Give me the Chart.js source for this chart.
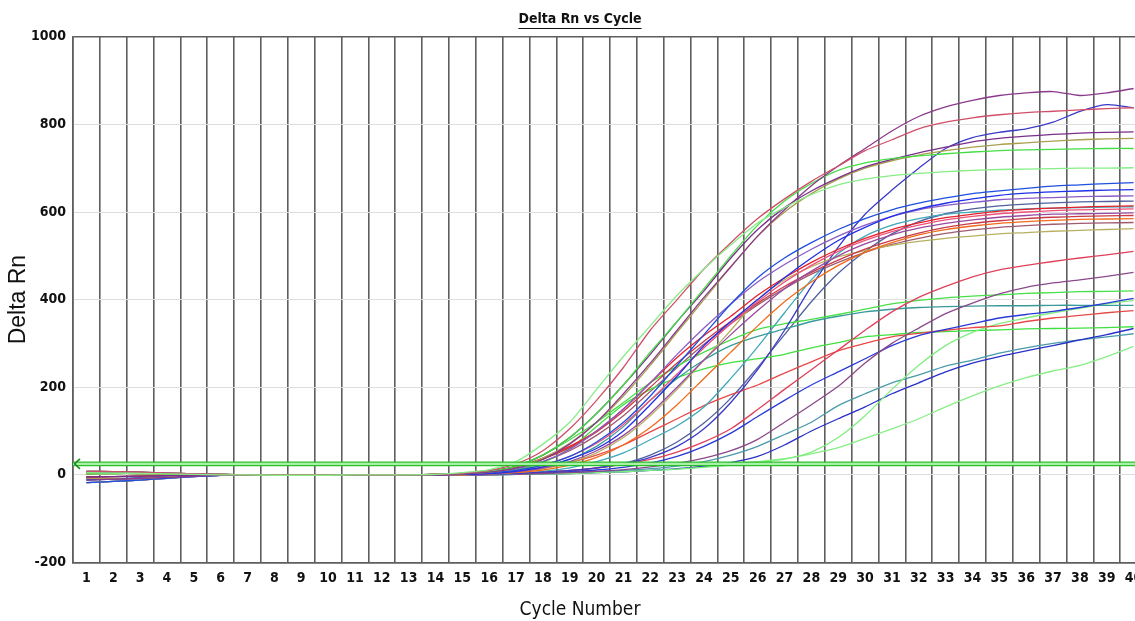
<!DOCTYPE html>
<html><head><meta charset="utf-8">
<script src="https://cdn.jsdelivr.net/npm/chart.js@4.4.1/dist/chart.umd.min.js"></script>
<style>
html,body{margin:0;padding:0;background:#fff;overflow:hidden;}
#wrap{width:1160px;height:621px;position:relative;}
</style></head><body>
<div id="wrap"><canvas id="c"></canvas></div>
<script>
const cycles = ['1','2','3','4','5','6','7','8','9','10','11','12','13','14','15','16','17','18','19','20','21','22','23','24','25','26','27','28','29','30','31','32','33','34','35','36','37','38','39','40'];
const yTicks = [-200, 0, 200, 400, 600, 800, 1000];
const threshold = 25;

const s01 = [5,4,3,2,1,0,0,-1,-1,-1,0,0,0,1, 5,12,30,70,120,195,270,340,410,470,525,575,610,640,662,675,683,688,692,695,697,698,699,700,700,701];
const s02 = [8,7,6,4,2,1,0,0,0,0,0,0,0,1, 4,10,25,55,105,170,245,330,400,470,530,585,630,670,705,740,765,790,805,815,822,827,830,833,836,838];
const s03 = [-12,-10,-8,-6,-3,-1,0,0,0,0,0,0,0,0, 2,6,15,35,70,120,185,255,330,405,475,545,605,660,705,745,785,818,840,855,866,872,875,866,872,882];
const s04 = [2,3,3,2,1,1,0,0,0,0,0,0,0,1, 3,8,20,45,85,140,205,280,350,425,500,570,625,665,695,712,722,728,733,737,740,742,743,744,745,745];
const s05 = [-5,-4,-3,-2,-1,0,0,0,0,0,-1,-1,0,0, 3,8,20,45,85,140,205,275,350,420,495,560,610,648,678,703,720,735,748,760,768,773,777,780,782,783];
const s06 = [-8,-9,-8,-5,-2,0,0,0,0,0,0,0,0,0, 2,6,16,38,72,120,180,250,325,400,475,545,600,642,675,700,717,730,740,748,754,758,762,765,767,768];
const s07 = [-18,-15,-12,-8,-4,-1,0,0,0,0,0,0,0,0, 2,5,10,22,42,75,120,180,250,320,390,450,495,530,560,585,605,620,632,642,648,654,659,662,665,667];
const s08 = [-10,-9,-7,-5,-3,-1,0,0,0,0,0,0,0,0, 1,3,8,18,36,60,100,160,225,295,350,400,450,495,535,565,590,607,620,630,638,643,646,648,650,651];
const s09 = [6,5,4,3,2,1,0,0,0,0,0,0,0,0, 2,6,14,30,58,100,150,210,275,335,390,440,480,515,545,570,590,605,615,622,628,631,633,635,636,637];
const s10 = [-5,-4,-3,-2,-1,0,0,0,0,0,-1,-1,0,0, 3,8,18,38,65,100,150,210,268,318,362,410,450,485,515,540,560,575,587,595,602,606,609,611,613,614];
const s11 = [5,4,3,2,1,0,0,-1,-1,-1,0,0,0,1, 1,4,10,22,42,72,115,170,230,290,345,395,440,478,510,535,555,570,582,590,596,600,603,605,606,607];
const s12 = [-8,-9,-8,-5,-2,0,0,0,0,0,0,0,0,0, 1,3,7,15,30,55,90,140,200,262,320,375,425,465,500,527,548,563,574,582,588,592,595,596,597,598];
const s13 = [8,7,6,4,2,1,0,0,0,0,0,0,0,1, 3,8,18,36,62,98,145,200,255,305,350,392,430,462,490,515,535,552,565,574,580,585,588,590,591,592];
const s14 = [2,3,3,2,1,1,0,0,0,0,0,0,0,1, 0,2,5,11,22,40,68,108,160,220,280,340,395,440,478,508,530,548,560,568,574,578,581,583,584,585];
const s15 = [-18,-15,-12,-8,-4,-1,0,0,0,0,0,0,0,0, 0,2,6,14,28,50,85,135,195,262,330,400,445,475,498,512,524,533,540,545,550,553,556,558,560,562];
const s16 = [-12,-10,-8,-6,-3,-1,0,0,0,0,0,0,0,0, 0,1,3,6,10,16,25,40,65,105,165,240,330,430,520,595,650,700,745,770,782,790,805,830,845,838];
const s17 = [-5,-4,-3,-2,-1,0,0,0,0,0,-1,-1,0,0, 0,1,3,8,16,30,50,80,112,155,220,292,370,445,505,545,570,585,595,600,604,607,609,610,611,612];
const s18 = [5,4,3,2,1,0,0,-1,-1,-1,0,0,0,1, 0,1,3,6,10,16,24,35,52,75,105,149,195,240,285,330,372,405,430,452,468,478,487,495,502,510];
const s19 = [-8,-9,-8,-5,-2,0,0,0,0,0,0,0,0,0, 0,0,1,3,5,8,12,18,26,38,55,81,120,160,202,255,300,335,368,392,413,428,438,445,453,462];
const s20 = [2,3,3,2,1,1,0,0,0,0,0,0,0,1, 3,8,20,45,80,120,165,210,248,280,308,332,345,355,366,378,390,398,404,408,411,414,416,418,419,420];
const s21 = [-18,-15,-12,-8,-4,-1,0,0,0,0,0,0,0,0, 0,1,2,4,7,11,17,27,42,65,95,133,170,205,235,265,295,318,332,345,358,366,373,382,392,403];
const s22 = [8,7,6,4,2,1,0,0,0,0,0,0,0,1, 1,3,8,18,35,65,110,170,220,262,295,316,333,350,362,372,378,382,384,385,386,386,387,387,387,387];
const s23 = [-5,-4,-3,-2,-1,0,0,0,0,0,-1,-1,0,0, 1,3,8,16,28,45,68,98,128,158,183,205,232,258,283,300,315,323,330,336,340,350,358,364,370,375];
const s24 = [-12,-10,-8,-6,-3,-1,0,0,0,0,0,0,0,0, 0,0,1,2,3,5,7,10,13,17,22,28,36,52,85,135,195,250,295,325,345,358,370,380,390,398];
const s25 = [5,4,3,2,1,0,0,-1,-1,-1,0,0,0,1, 2,5,12,28,60,110,160,195,222,242,256,265,275,290,302,315,320,325,327,329,331,333,334,335,336,338];
const s26 = [-8,-9,-8,-5,-2,0,0,0,0,0,0,0,0,0, 0,0,1,2,3,5,7,10,14,20,28,42,68,100,128,155,185,210,235,255,270,283,295,308,320,334];
const s27 = [8,7,6,4,2,1,0,0,0,0,0,0,0,1, 0,1,2,3,5,7,10,14,20,30,45,65,92,120,158,185,210,228,248,262,278,290,300,308,315,322];
const s28 = [-5,-4,-3,-2,-1,0,0,0,0,0,-1,-1,0,0, 0,0,1,2,3,5,7,10,13,18,24,30,37,48,62,83,105,128,155,180,203,222,237,250,270,293];
const s29 = [-18,-15,-12,-8,-4,-1,0,0,0,0,0,0,0,0, 2,6,14,30,55,90,135,190,245,298,345,388,425,458,485,508,526,540,551,559,565,569,572,574,575,576];
const s30 = [2,3,3,2,1,1,0,0,0,0,0,0,0,1, 0,1,2,5,9,15,26,45,75,118,175,245,320,395,460,510,550,578,596,607,614,618,621,623,624,625];

const seriesList = [s01,s02,s03,s04,s05,s06,s07,s08,s09,s10,s11,s12,s13,s14,s15,s16,s17,s18,s19,s20,s21,s22,s23,s24,s25,s26,s27,s28,s29,s30];
const seriesColors = ['#86ee86','#d0506a','#8b3a8b','#44dd44','#7a2f8a','#a8a050','#1f4fe0','#2030e8','#8a5cc8','#e8202a',
  '#f0507a','#9a4aa0','#c83a48','#f26a1a','#b8b060','#3a3ac8','#40a8b8','#e0405a','#8a4a8a','#48e048',
  '#2a3ad8','#3a9a9a','#e84848','#80ee80','#40e040','#2830c8','#4a9aa8','#88ee88','#a05a70','#5060a0'];

const FONT = "'DejaVu Sans Condensed','Liberation Sans Narrow',sans-serif";
const FONT2 = "'Liberation Sans','Arial',sans-serif";

const thresholdPlugin = {
  id: 'thresholdLine',
  afterDatasetsDraw(chart) {
    const ctx = chart.ctx;
    const y = chart.scales.y.getPixelForValue(threshold);
    const {left, right} = chart.chartArea;
    ctx.save();
    ctx.fillStyle = '#a8f0a8';
    ctx.fillRect(left, y - 1.5, right - left, 3);
    ctx.strokeStyle = '#2cbf2c';
    ctx.lineWidth = 1.2;
    ctx.beginPath();
    ctx.moveTo(left, y - 1.8); ctx.lineTo(right, y - 1.8);
    ctx.moveTo(left, y + 1.8); ctx.lineTo(right, y + 1.8);
    ctx.stroke();
    ctx.strokeStyle = '#1e8a1e';
    ctx.lineWidth = 1.6;
    ctx.beginPath();
    ctx.moveTo(left + 7, y - 5); ctx.lineTo(left + 1.5, y); ctx.lineTo(left + 7, y + 5);
    ctx.stroke();
    ctx.restore();
  },
  afterDraw(chart) {
    const tb = chart.titleBlock;
    if (!tb) return;
    const ctx = chart.ctx;
    const opts = chart.options.plugins.title;
    ctx.save();
    ctx.font = 'bold ' + opts.font.size + 'px ' + opts.font.family;
    const w = ctx.measureText(opts.text).width;
    const cx = (tb.left + tb.right) / 2;
    const cy = tb.top + opts.padding.top + opts.font.size * 1.2 / 2;
    const uy = Math.round(cy + opts.font.size * 0.6) + 0.5;
    ctx.strokeStyle = '#111';
    ctx.lineWidth = 1;
    ctx.beginPath();
    ctx.moveTo(cx - w / 2, uy);
    ctx.lineTo(cx + w / 2, uy);
    ctx.stroke();
    ctx.restore();
  }
};

new Chart(document.getElementById('c'), {
  type: 'line',
  data: {
    labels: cycles,
    datasets: seriesList.map((d, i) => ({
      data: d,
      borderColor: seriesColors[i],
      borderWidth: 1.3,
      pointRadius: 0,
      tension: 0.25,
      fill: false
    }))
  },
  options: {
    responsive: true,
    maintainAspectRatio: false,
    animation: false,
    devicePixelRatio: 1,
    layout: {padding: {left: 13, right: 13, top: 0, bottom: 0}},
    plugins: {
      legend: {display: false},
      tooltip: {enabled: false},
      title: {display: true, text: 'Delta Rn vs Cycle', color: '#111',
        font: {family: FONT, size: 14, weight: 'bold'}, padding: {top: 11, bottom: 9}},
      subtitle: {display: true, position: 'bottom', text: 'Cycle Number', color: '#111',
        font: {family: FONT, size: 19, weight: 'normal'}, padding: {top: 3, bottom: 0}}
    },
    scales: {
      x: {
        type: 'category',
        offset: true,
        z: -1,
        grid: {offset: true, color: '#5e5e5e', lineWidth: 1.6, drawTicks: false},
        border: {color: '#5e5e5e', width: 1.6},
        ticks: {color: '#111', padding: 8, autoSkip: false, maxRotation: 0,
          font: {family: FONT, size: 14, weight: 'bold'}}
      },
      y: {
        min: -200, max: 1000,
        z: -2,
        afterBuildTicks(scale) { scale.ticks = yTicks.map(v => ({value: v})); },
        afterFit(scale) { scale.width = 60; },
        grid: {
          drawTicks: false,
          color: c => (c.tick && (c.tick.value === 1000 || c.tick.value === -200)) ? '#5e5e5e' : '#dedede',
          lineWidth: c => (c.tick && (c.tick.value === 1000 || c.tick.value === -200)) ? 1.6 : 1
        },
        border: {color: '#5e5e5e', width: 1.6},
        ticks: {color: '#111', padding: 7, font: {family: FONT, size: 14, weight: 'bold'},
          callback: v => String(v)},
        title: {display: true, text: 'Delta Rn', color: '#111',
          font: {family: FONT2, size: 23, weight: 'normal', lineHeight: 1},
          padding: {top: -6, bottom: 0}}
      }
    }
  },
  plugins: [thresholdPlugin]
});
</script>
</body></html>
